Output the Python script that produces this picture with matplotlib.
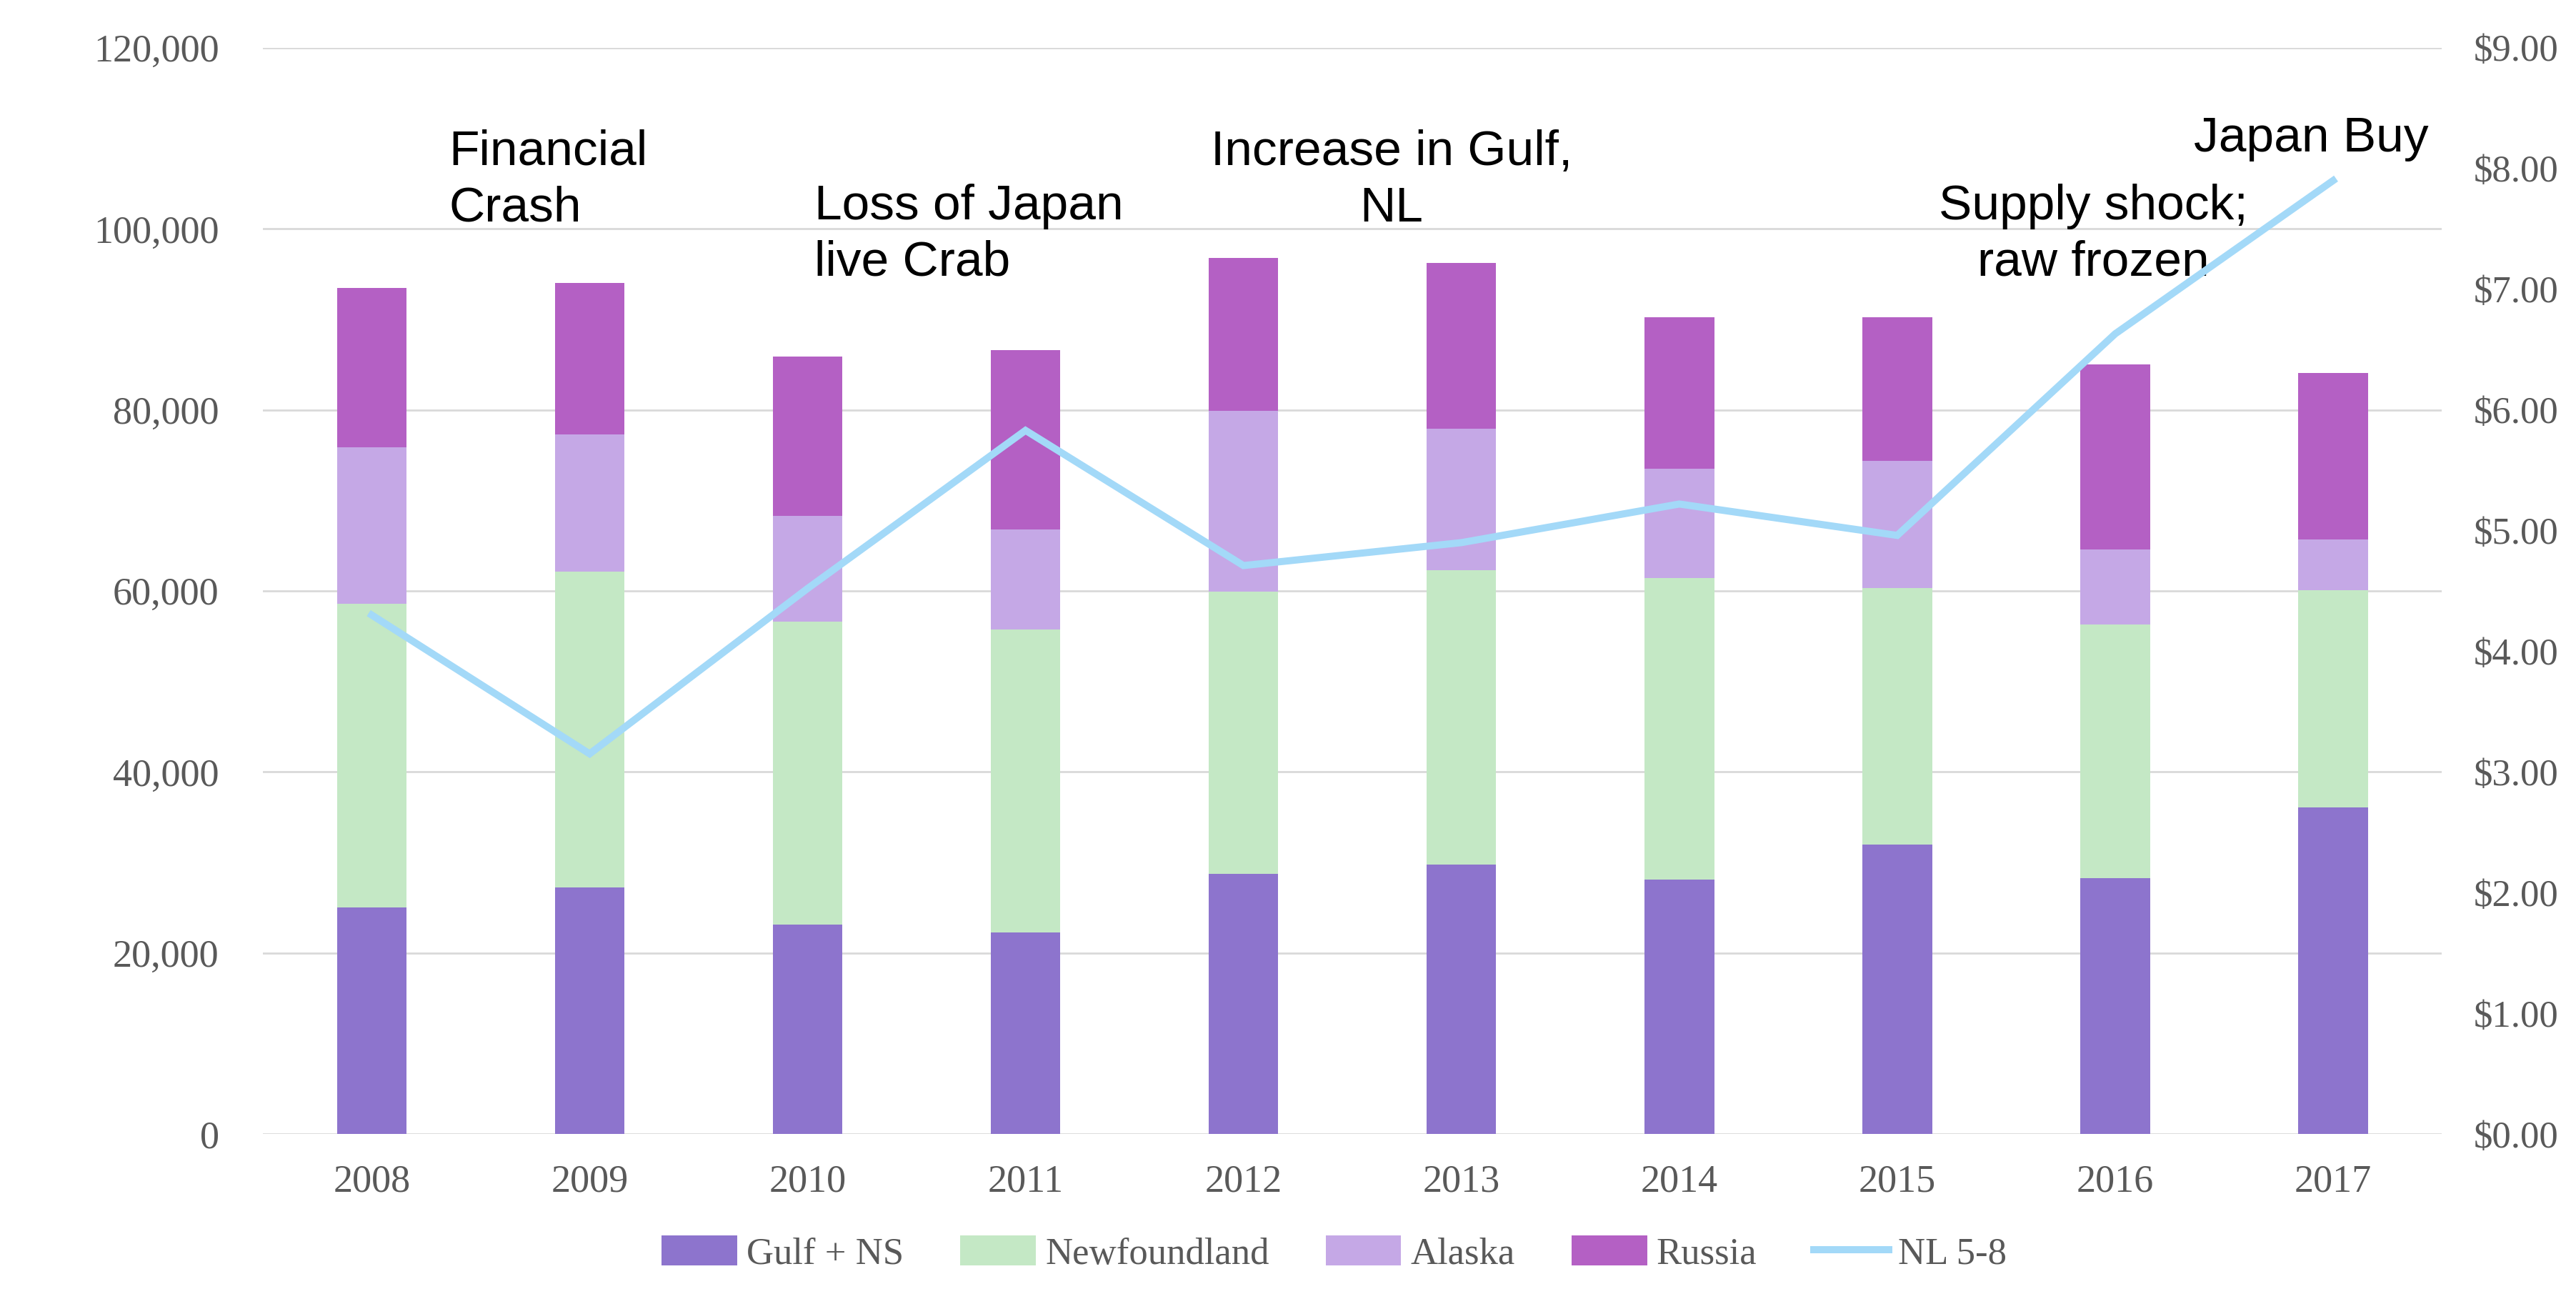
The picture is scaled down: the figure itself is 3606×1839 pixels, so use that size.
import numpy as np
import matplotlib.pyplot as plt
from matplotlib.ticker import FuncFormatter

years = ['2008', '2009', '2010', '2011', '2012', '2013', '2014', '2015', '2016', '2017']
gulf_ns = [25000, 27200, 23100, 22300, 28700, 29800, 28100, 32000, 28300, 36100]
newfoundland = [33600, 34900, 33500, 33400, 31200, 32500, 33300, 28300, 28000, 24000]
alaska = [17300, 15200, 11700, 11100, 20000, 15600, 12100, 14100, 8300, 5600]
russia = [17600, 16700, 17600, 19800, 16900, 18300, 16700, 15800, 20400, 18400]
nl_price = [4.30, 3.15, 4.52, 5.83, 4.71, 4.90, 5.22, 4.96, 6.63, 7.90]

notes = ['Financial\nCrash', 'Loss of Japan\nlive Crab', 'Increase in Gulf,\nNL',
         'Supply shock;\nraw frozen', 'Japan Buy']

grey = '#595959'
tick_font = 'Liberation Serif'

fig = plt.figure(figsize=(18.03, 9.195), dpi=200)
ax = fig.add_axes([0.102, 0.137, 0.846, 0.8266])
ax2 = ax.twinx()

x = np.arange(len(years))
w = 0.32
b1 = np.array(gulf_ns)
b2 = b1 + np.array(newfoundland)
b3 = b2 + np.array(alaska)
ax.bar(x, gulf_ns, w, color='#8D74CD', label='Gulf + NS', zorder=2)
ax.bar(x, newfoundland, w, bottom=b1, color='#C4E8C5', label='Newfoundland', zorder=2)
ax.bar(x, alaska, w, bottom=b2, color='#C5A8E6', label='Alaska', zorder=2)
ax.bar(x, russia, w, bottom=b3, color='#B460C4', label='Russia', zorder=2)
ax2.plot(x, nl_price, color='#A3D9F8', lw=3.6, label='NL 5-8', solid_joinstyle='miter')

ax.set_xlim(-0.5, len(years) - 0.5)
ax.set_ylim(0, 120000)
ax.set_yticks(np.arange(0, 120001, 20000))
ax.yaxis.set_major_formatter(FuncFormatter(lambda v, p: f'{int(v):,}'))
ax2.set_ylim(0, 9)
ax2.set_yticks(np.arange(0, 9.01, 1))
ax2.yaxis.set_major_formatter(FuncFormatter(lambda v, p: f'${v:.2f}'))
ax.set_xticks(x)
ax.set_xticklabels(years)

ax.grid(axis='y', color='#D9D9D9', lw=1.0, zorder=0)
ax.set_axisbelow(True)
for a in (ax, ax2):
    for s in a.spines.values():
        s.set_visible(False)
ax.tick_params(axis='both', length=0, colors=grey, labelsize=19.5)
ax.tick_params(axis='y', pad=22)
ax.tick_params(axis='x', pad=15)
ax2.tick_params(axis='y', length=0, colors=grey, labelsize=19, pad=16)
for lab in ax.get_xticklabels() + ax.get_yticklabels() + ax2.get_yticklabels():
    lab.set_fontfamily(tick_font)

# event notes
txt = dict(fontsize=25, family='Liberation Sans', color='black', va='top', linespacing=1.3)
ax.text(0.354, 111000, notes[0], ha='left', **txt)
ax.text(2.03, 105000, notes[1], ha='left', **txt)
ax.text(4.68, 111000, notes[2], ha='center', **txt)
ax.text(7.90, 105000, notes[3], ha='center', **txt)
ax.text(8.36, 112500, notes[4], ha='left', **txt)

h1, l1 = ax.get_legend_handles_labels()
h2, l2 = ax2.get_legend_handles_labels()
leg = fig.legend(h1 + h2, l1 + l2, loc='center', bbox_to_anchor=(0.518, 0.046), ncol=5,
                 frameon=False, prop={'family': tick_font, 'size': 19},
                 handlelength=2.0, handleheight=0.85, handletextpad=0.25, columnspacing=1.5)
for t in leg.get_texts():
    t.set_color(grey)

fig.savefig('out.png', dpi=200, facecolor='white')
